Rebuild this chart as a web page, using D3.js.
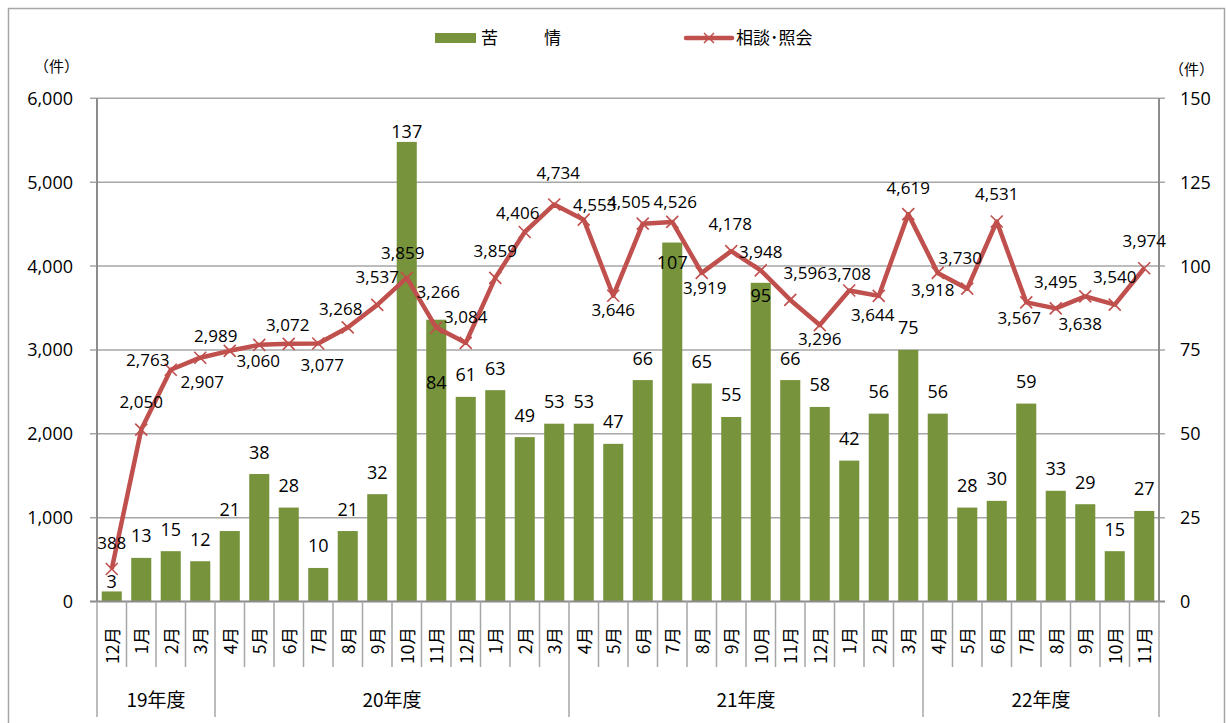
<!DOCTYPE html>
<html>
<head>
<meta charset="utf-8">
<script src="https://cdn.jsdelivr.net/npm/d3@7"></script>
<style>
  body { margin: 0; background: #fff; }
  svg text { font-family: "Open Sans", "Noto Sans CJK JP", sans-serif; fill: #000; }
  .jp { font-family: "Noto Sans CJK JP", sans-serif; }
</style>
</head>
<body>
<div id="chart"></div>
<script>
// 月ラベル (19年度12月 〜 22年度11月)
const months = ["12月", "1月", "2月", "3月",
  "4月", "5月", "6月", "7月", "8月", "9月", "10月", "11月", "12月", "1月", "2月", "3月",
  "4月", "5月", "6月", "7月", "8月", "9月", "10月", "11月", "12月", "1月", "2月", "3月",
  "4月", "5月", "6月", "7月", "8月", "9月", "10月", "11月"];

// 年度ごとのまとまり
const fiscalYears = ["19年度", "20年度", "21年度", "22年度"];
const monthsPerYear = [4, 12, 12, 8];

// 苦情 (右軸)
const kujo = [3, 13, 15, 12,
  21, 38, 28, 10, 21, 32, 137, 84, 61, 63, 49, 53,
  53, 47, 66, 107, 65, 55, 95, 66, 58, 42, 56, 75,
  56, 28, 30, 59, 33, 29, 15, 27];

// 相談・照会 (左軸)
const sodan = [388, 2050, 2763, 2907,
  2989, 3060, 3072, 3077, 3268, 3537, 3859, 3266, 3084, 3859, 4406, 4734,
  4553, 3646, 4505, 4526, 3919, 4178, 3948, 3596, 3296, 3708, 3644, 4619,
  3918, 3730, 4531, 3567, 3495, 3638, 3540, 3974];

const leftTicks = [0, 1000, 2000, 3000, 4000, 5000, 6000];
const rightTicks = [0, 25, 50, 75, 100, 125, 150];

// ラベルのずらし (点からの dx, dy)
const lineLabelShift = [[0, -26], [0, -28], [-23, -10], [2, 24],
  [-14, -15], [-1, 16], [-1, -19], [4, 21], [-7, -19], [0, -28], [-4, -25], [2, -36], [0, -26], [0, -27], [-7, -19], [4, -32],
  [11, -15], [0, 14], [-14, -22], [3, -20], [3, 15], [-1, -27], [0, -19], [15, -27], [0, 14], [0, -17], [-6, 19], [0, -26],
  [-5, 17], [-7, -31], [0, -28], [-7, 16], [0, -27], [-5, 27], [0, -28], [0, -27]];
// 棒ラベルのずらし (棒の上端から)
const barLabelShift = {0: -10, 10: -10, 11: 63, 19: 20, 22: 13};

const W = 1226, H = 723;
const plot = {left: 97, right: 1159, top: 98.3, bottom: 601.5};
const RED = "#C0504D", GREEN = "#77933C";

const svg = d3.select("#chart").append("svg")
  .attr("width", W).attr("height", H);

// 外枠
svg.append("rect")
  .attr("x", 8.5).attr("y", 8.5)
  .attr("width", 1216).attr("height", 760)
  .attr("fill", "none").attr("stroke", "#a6a6a6").attr("stroke-width", 1.5);

const x = d3.scaleBand()
  .domain(d3.range(months.length))
  .range([plot.left, plot.right])
  .paddingInner(0.32).paddingOuter(0.16);

const yL = d3.scaleLinear().domain([0, 6000]).range([plot.bottom, plot.top]);
const yR = d3.scaleLinear().domain([0, 150]).range([plot.bottom, plot.top]);

// 目盛線
svg.append("g").selectAll("line")
  .data(leftTicks.slice(1))
  .join("line")
  .attr("x1", plot.left - 7).attr("x2", plot.right + 6)
  .attr("y1", d => yL(d)).attr("y2", d => yL(d))
  .attr("stroke", "#a6a6a6").attr("stroke-width", 1.5);

// 左軸ラベル
svg.append("g").selectAll("text")
  .data(leftTicks)
  .join("text")
  .attr("x", 73).attr("y", d => yL(d))
  .attr("dy", "0.36em")
  .attr("text-anchor", "end")
  .style("font-size", "18px")
  .text(d => d3.format(",")(d));

// 右軸ラベル
svg.append("g").selectAll("text")
  .data(rightTicks)
  .join("text")
  .attr("x", 1180).attr("y", d => yR(d))
  .attr("dy", "0.36em")
  .style("font-size", "18px")
  .text(d => d);

svg.append("text").attr("class", "jp")
  .attr("x", 34).attr("y", 72).style("font-size", "15px").text("（件）");
svg.append("text").attr("class", "jp")
  .attr("x", 1169).attr("y", 75).style("font-size", "15px").text("（件）");

// 棒 (苦情)
svg.append("g").selectAll("rect")
  .data(kujo)
  .join("rect")
  .attr("x", (d, i) => x(i))
  .attr("width", x.bandwidth())
  .attr("y", d => yR(d))
  .attr("height", d => yR(0) - yR(d))
  .attr("fill", GREEN);

// 軸線
const axisG = svg.append("g").attr("stroke", "#8c8c8c").attr("stroke-width", 2);
axisG.append("line").attr("x1", plot.left).attr("x2", plot.left)
  .attr("y1", plot.top).attr("y2", plot.bottom);
axisG.append("line").attr("x1", plot.right).attr("x2", plot.right)
  .attr("y1", plot.top).attr("y2", plot.bottom);
axisG.append("line").attr("x1", plot.left - 7).attr("x2", plot.right + 6)
  .attr("y1", plot.bottom).attr("y2", plot.bottom);

// 月の区切り線
const step = x.step();
const edge = i => plot.left + step * i;
const yearStarts = d3.cumsum([0].concat(monthsPerYear)).slice(0, -1);
const yearEdges = d3.cumsum([0].concat(monthsPerYear));
svg.append("g").selectAll("line")
  .data(d3.range(months.length + 1))
  .join("line")
  .attr("x1", i => edge(i)).attr("x2", i => edge(i))
  .attr("y1", plot.bottom)
  .attr("y2", i => yearEdges.includes(i) ? 717 : 667)
  .attr("stroke", "#a6a6a6").attr("stroke-width", 1.5);

// 月ラベル (回転)
svg.append("g").selectAll("text")
  .data(months)
  .join("text")
  .attr("class", "jp")
  .attr("transform", (d, i) => `translate(${x(i) + x.bandwidth() / 2 + 1},627) rotate(-90)`)
  .attr("text-anchor", "end")
  .attr("dy", "0.35em")
  .style("font-size", "17.5px")
  .text(d => d);

// 年度ラベル
svg.append("g").selectAll("text")
  .data(fiscalYears)
  .join("text")
  .attr("class", "jp")
  .attr("x", (d, i) => (edge(yearStarts[i]) + edge(yearStarts[i] + monthsPerYear[i])) / 2)
  .attr("y", 700)
  .attr("dy", "0.35em")
  .attr("text-anchor", "middle")
  .style("font-size", "19px")
  .text(d => d);

// 折れ線 (相談・照会)
const cx = i => x(i) + x.bandwidth() / 2;
const line = d3.line().x((d, i) => cx(i)).y(d => yL(d));
svg.append("path")
  .datum(sodan)
  .attr("d", line)
  .attr("fill", "none")
  .attr("stroke", RED)
  .attr("stroke-width", 4.5)
  .attr("stroke-linejoin", "round");

const m = 6;
svg.append("g").selectAll("path")
  .data(sodan)
  .join("path")
  .attr("d", (d, i) => {
    const px = cx(i), py = yL(d);
    return `M${px - m},${py - m}L${px + m},${py + m}M${px - m},${py + m}L${px + m},${py - m}`;
  })
  .attr("stroke", RED).attr("stroke-width", 1.6);

// 棒ラベル
svg.append("g").selectAll("text")
  .data(kujo)
  .join("text")
  .attr("x", (d, i) => cx(i))
  .attr("y", (d, i) => yR(d) + (barLabelShift[i] !== undefined ? barLabelShift[i] : -22))
  .attr("dy", "0.36em")
  .attr("text-anchor", "middle")
  .style("font-size", "18px")
  .text(d => d);

// 折れ線ラベル
svg.append("g").selectAll("text")
  .data(sodan)
  .join("text")
  .attr("x", (d, i) => cx(i) + lineLabelShift[i][0])
  .attr("y", (d, i) => yL(d) + lineLabelShift[i][1])
  .attr("dy", "0.36em")
  .attr("text-anchor", "middle")
  .style("font-size", "17px")
  .text(d => d3.format(",")(d));

// 凡例
const leg = svg.append("g");
leg.append("rect").attr("x", 435).attr("y", 33).attr("width", 41).attr("height", 10).attr("fill", GREEN);
leg.append("text").attr("class", "jp")
  .attr("x", 481).attr("y", 38).attr("dy", "0.35em")
  .style("font-size", "17px").style("letter-spacing", "4px")
  .text("苦　　情");
leg.append("line").attr("x1", 686).attr("x2", 732).attr("y1", 38).attr("y2", 38)
  .attr("stroke", RED).attr("stroke-width", 4.5).attr("stroke-linecap", "round");
leg.append("path")
  .attr("d", `M${709 - 5},${38 - 5}L${709 + 5},${38 + 5}M${709 - 5},${38 + 5}L${709 + 5},${38 - 5}`)
  .attr("stroke", RED).attr("stroke-width", 1.5);
leg.append("text").attr("class", "jp")
  .attr("x", 736).attr("y", 38).attr("dy", "0.35em")
  .style("font-size", "17px")
  .text("相談･照会");
</script>
</body>
</html>
